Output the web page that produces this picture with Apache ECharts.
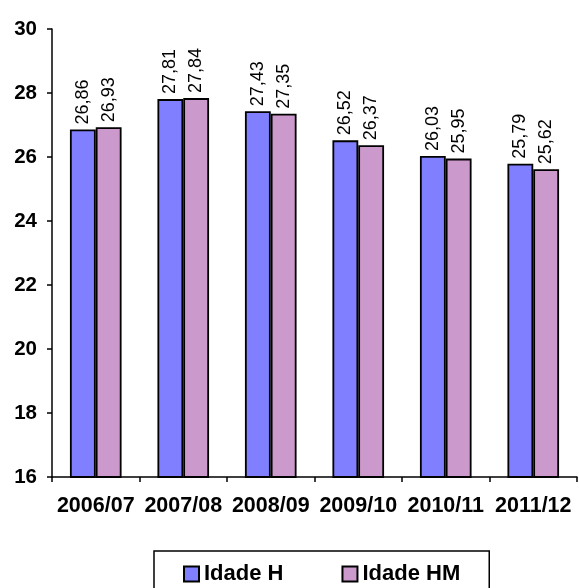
<!DOCTYPE html>
<html><head><meta charset="utf-8">
<script src="https://cdn.jsdelivr.net/npm/echarts@6/dist/echarts.min.js"></script>
<style>html,body{margin:0;padding:0;background:#fff}#c{width:579px;height:588px}</style>
</head><body><div id="c"></div>
<script>
const categories = ['2006/07','2007/08','2008/09','2009/10','2010/11','2011/12'];
const idadeH = [26.86, 27.81, 27.43, 26.52, 26.03, 25.79];
const idadeHM = [26.93, 27.84, 27.35, 26.37, 25.95, 25.62];
const seriesNames = ['Idade H', 'Idade HM'];
const yMin = 16, yMax = 30, yStep = 2;

const FONT = '"Liberation Sans", Arial, sans-serif';
const chart = echarts.init(document.getElementById('c'), null, {renderer:'canvas'});
function lbl() {
  return {
    show: true, position: 'top', rotate: 90, align: 'left', verticalAlign: 'middle',
    distance: 9, offset: [-4, 0], fontFamily: FONT, fontSize: 18, color: '#000',
    formatter: p => p.value.toFixed(2).replace('.', ',')
  };
}
chart.setOption({
  animation: false,
  grid: {left: 52, right: 2, top: 29, bottom: 111, containLabel: false},
  legend: {
    data: seriesNames, left: 154, top: 551, icon: 'rect',
    padding: [12, 29, 12, 29], itemGap: 58, itemWidth: 15, itemHeight: 15,
    borderColor: '#000', borderWidth: 1.5, backgroundColor: '#fff',
    textStyle: {fontFamily: FONT, fontSize: 22, fontWeight: 'bold', color: '#000'}
  },
  xAxis: {
    type: 'category', data: categories,
    axisLine: {lineStyle: {color: '#000', width: 1.5}},
    axisTick: {show: true, length: 5, lineStyle: {color: '#000', width: 1.5}},
    axisLabel: {fontFamily: FONT, fontSize: 21.5, fontWeight: 'bold', color: '#000', margin: 18, interval: 0}
  },
  yAxis: {
    type: 'value', min: yMin, max: yMax, interval: yStep,
    splitLine: {show: false},
    axisLine: {show: true, lineStyle: {color: '#000', width: 1.5}},
    axisTick: {show: true, length: 5, lineStyle: {color: '#000', width: 1.5}},
    axisLabel: {fontFamily: FONT, fontSize: 20.5, fontWeight: 'bold', color: '#000', margin: 15}
  },
  series: [
    {name: seriesNames[0], type: 'bar', data: idadeH, barGap: '0%', barCategoryGap: '41%',
     itemStyle: {color: '#7F7FFF', borderColor: '#000', borderWidth: 1.8}, label: lbl()},
    {name: seriesNames[1], type: 'bar', data: idadeHM, barGap: '0%', barCategoryGap: '41%',
     itemStyle: {color: '#CC99CC', borderColor: '#000', borderWidth: 1.8}, label: lbl()}
  ]
});
</script></body></html>
